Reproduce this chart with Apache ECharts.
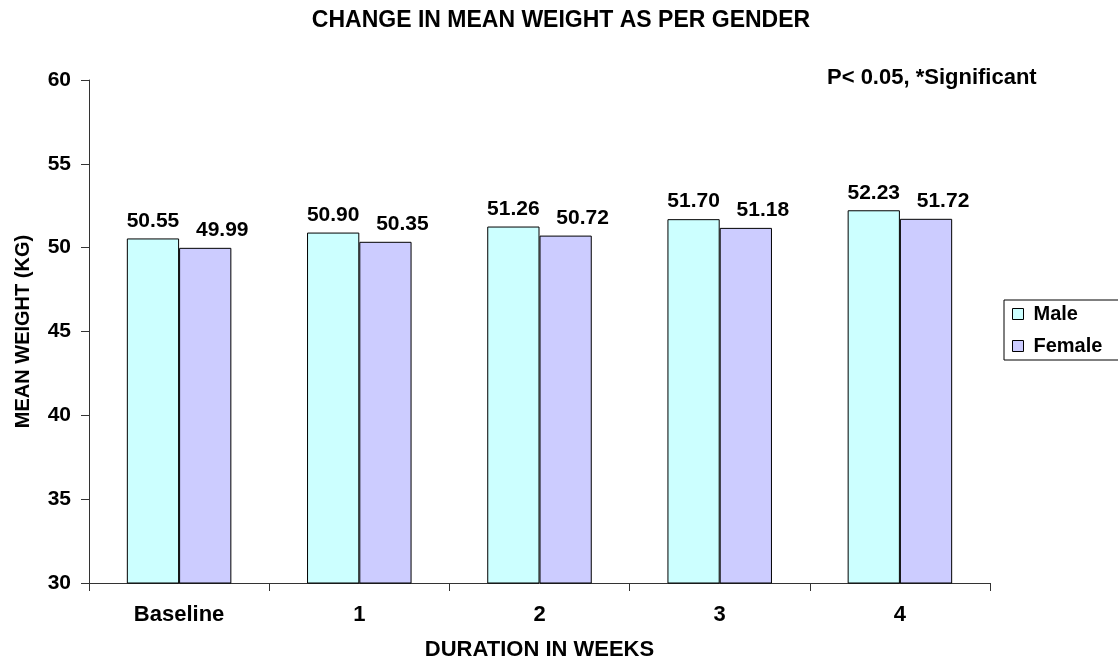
<!DOCTYPE html>
<html>
<head>
<meta charset="utf-8">
<script src="https://cdn.jsdelivr.net/npm/echarts@6/dist/echarts.min.js"></script>
<style>
  html, body { margin: 0; padding: 0; background: #fff; }
  #main { width: 1118px; height: 659px; }
</style>
</head>
<body>
<div id="main"></div>
<script>
var categories = ['Baseline', '1', '2', '3', '4'];
var maleValues = [50.55, 50.90, 51.26, 51.70, 52.23];
var femaleValues = [49.99, 50.35, 50.72, 51.18, 51.72];

var fontFamily = '"Liberation Sans", Arial, sans-serif';

var chartDom = document.getElementById('main');
var myChart = echarts.init(chartDom);
var option;

function labelStyle(dx) {
  return {
    show: true,
    position: 'top',
    distance: 7,
    offset: [dx, 0],
    color: '#000',
    fontFamily: fontFamily,
    fontWeight: 'bold',
    fontSize: 21,
    formatter: function (p) { return p.value.toFixed(2); }
  };
}

option = {
  animation: false,
  title: [
    {
      text: 'CHANGE IN MEAN WEIGHT AS PER GENDER',
      left: 556,
      textAlign: 'center',
      top: 4,
      textStyle: { fontFamily: fontFamily, fontWeight: 'bold', fontSize: 23, color: '#000' }
    },
    {
      text: 'P< 0.05, *Significant',
      left: 822,
      top: 62,
      textStyle: { fontFamily: fontFamily, fontWeight: 'bold', fontSize: 22, color: '#000' }
    }
  ],
  grid: { left: 89, right: 128, top: 80, bottom: 76, containLabel: false, outerBoundsMode: 'none' },
  legend: {
    orient: 'vertical',
    left: 1004,
    top: 300,
    padding: [4, 40, 4, 8],
    itemGap: 12,
    itemWidth: 11,
    itemHeight: 11,
    icon: 'rect',
    borderColor: '#000',
    borderWidth: 1,
    itemStyle: { borderColor: '#000', borderWidth: 1 },
    textStyle: { fontFamily: fontFamily, fontWeight: 'bold', fontSize: 20, color: '#000', padding: [0, 0, 0, 5] },
    data: ['Male', 'Female']
  },
  xAxis: {
    type: 'category',
    data: categories,
    name: 'DURATION IN WEEKS',
    nameLocation: 'middle',
    nameGap: 56,
    nameTextStyle: { fontFamily: fontFamily, fontWeight: 'bold', fontSize: 22, color: '#000' },
    axisLine: { lineStyle: { color: '#333', width: 1 } },
    axisTick: { show: true, length: 8, lineStyle: { color: '#333' } },
    axisLabel: { margin: 21, fontFamily: fontFamily, fontWeight: 'bold', fontSize: 22, color: '#000' }
  },
  yAxis: {
    type: 'value',
    min: 30,
    max: 60,
    interval: 5,
    name: 'MEAN WEIGHT (KG)',
    nameLocation: 'middle',
    nameGap: 56,
    nameTextStyle: { fontFamily: fontFamily, fontWeight: 'bold', fontSize: 20, color: '#000' },
    axisLine: { show: true, lineStyle: { color: '#333', width: 1 } },
    axisTick: { show: true, length: 8, lineStyle: { color: '#333' } },
    axisLabel: { margin: 18, fontFamily: fontFamily, fontWeight: 'bold', fontSize: 21, color: '#000' },
    splitLine: { show: false }
  },
  series: [
    {
      name: 'Male',
      type: 'bar',
      data: maleValues,
      barGap: '0%',
      barCategoryGap: '42%',
      itemStyle: { color: '#CCFFFF', borderColor: '#000', borderWidth: 1 },
      label: labelStyle(0)
    },
    {
      name: 'Female',
      type: 'bar',
      data: femaleValues,
      itemStyle: { color: '#CCCCFF', borderColor: '#000', borderWidth: 1 },
      label: labelStyle(17)
    }
  ]
};

option && myChart.setOption(option);
</script>
</body>
</html>
